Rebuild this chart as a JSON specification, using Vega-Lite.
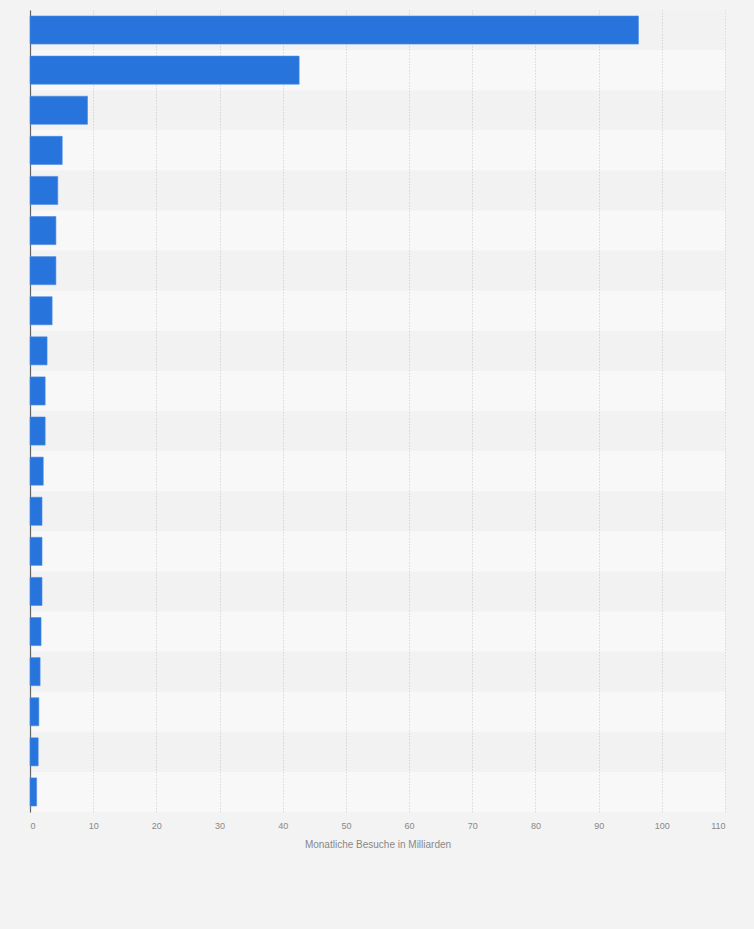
{
  "$schema": "https://vega.github.io/schema/vega-lite/v6.json",
  "width": 695,
  "height": 802,
  "autosize": {"type": "none"},
  "padding": {"left": 30, "top": 10, "right": 29, "bottom": 117},
  "background": "#f3f3f3",
  "config": {
    "view": {"fill": "#f8f8f8", "stroke": null},
    "font": "Liberation Sans"
  },
  "data": {
    "values": [
      {"rank": 1, "visits": 96.3},
      {"rank": 2, "visits": 42.6},
      {"rank": 3, "visits": 9.1},
      {"rank": 4, "visits": 5.1},
      {"rank": 5, "visits": 4.4},
      {"rank": 6, "visits": 4.1},
      {"rank": 7, "visits": 4.1},
      {"rank": 8, "visits": 3.5},
      {"rank": 9, "visits": 2.7},
      {"rank": 10, "visits": 2.4},
      {"rank": 11, "visits": 2.4},
      {"rank": 12, "visits": 2.1},
      {"rank": 13, "visits": 1.9},
      {"rank": 14, "visits": 1.9},
      {"rank": 15, "visits": 1.9},
      {"rank": 16, "visits": 1.75},
      {"rank": 17, "visits": 1.6},
      {"rank": 18, "visits": 1.4},
      {"rank": 19, "visits": 1.3},
      {"rank": 20, "visits": 1.05}
    ]
  },
  "layer": [
    {
      "mark": {"type": "rect", "fill": "#000000"},
      "encoding": {
        "y": {"field": "rank", "type": "ordinal", "scale": {"paddingInner": 0, "paddingOuter": 0}, "axis": null},
        "fillOpacity": {"condition": {"test": "datum.rank % 2 === 1", "value": 0.022}, "value": 0}
      }
    },
    {
      "mark": {"type": "bar", "color": "#2775dc", "stroke": "#4a8be4", "strokeWidth": 0.6},
      "encoding": {
        "y": {
          "field": "rank", "type": "ordinal",
          "scale": {"paddingInner": 0.3, "paddingOuter": 0.15},
          "axis": {"labels": false, "ticks": false, "title": null, "domain": true, "domainColor": "#666666", "domainWidth": 1.2, "grid": false}
        },
        "x": {
          "field": "visits", "type": "quantitative",
          "scale": {"domain": [0, 110], "nice": false},
          "axis": {
            "values": [0, 10, 20, 30, 40, 50, 60, 70, 80, 90, 100, 110],
            "title": "Monatliche Besuche in Milliarden",
            "titleFontSize": 10, "titleFontWeight": "normal", "titleColor": "#888888", "titlePadding": 9,
            "labelFontSize": 9, "labelColor": "#888888", "labelPadding": 9,
            "domain": false, "ticks": false,
            "grid": true, "gridColor": "#dadada", "gridDash": [1.5, 1.5], "gridWidth": 1
          }
        }
      }
    }
  ],
  "resolve": {"scale": {"y": "independent"}}
}
